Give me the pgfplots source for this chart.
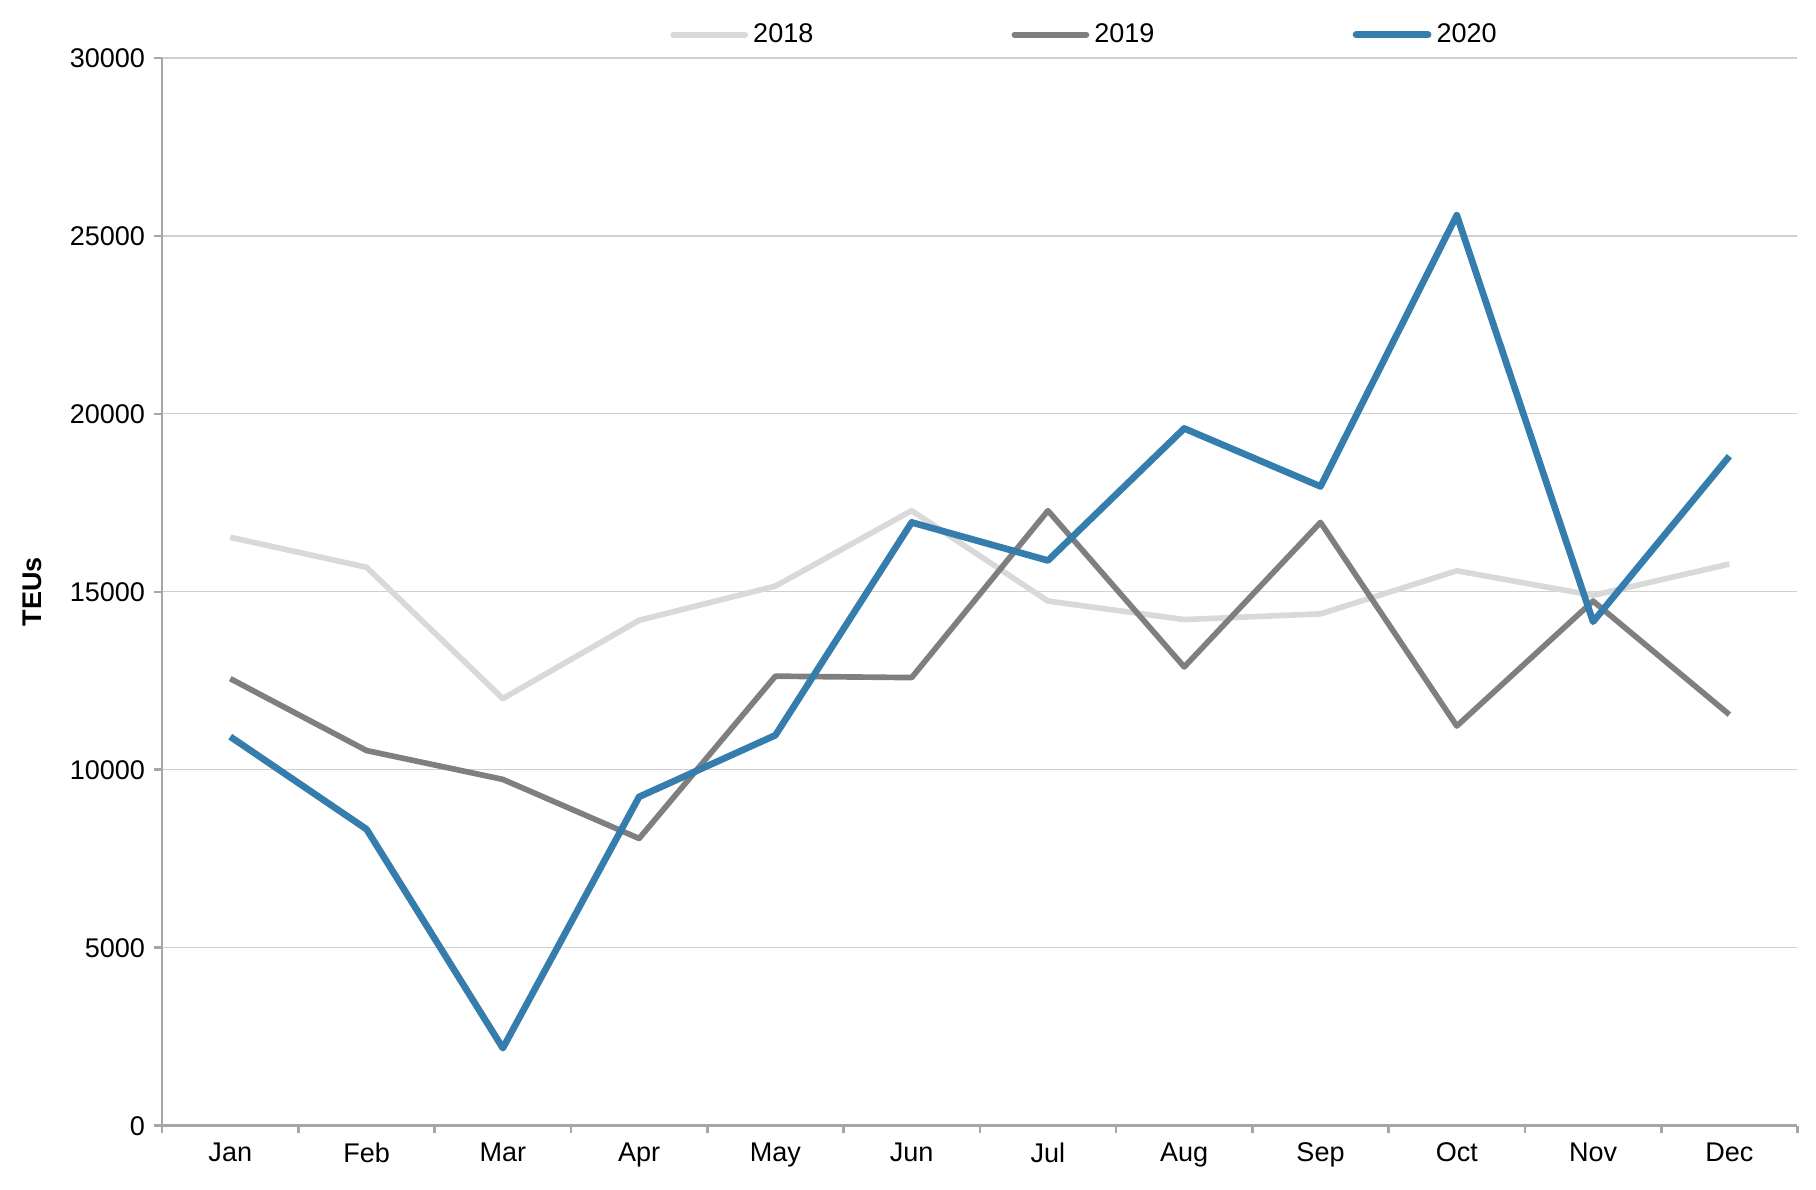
\documentclass[border=0pt]{standalone}
\usepackage{pgfplots}
\pgfplotsset{compat=1.18}
\usepackage{fontspec}
\setmainfont{Liberation Sans}
\definecolor{c18}{HTML}{D9D9D9}
\definecolor{c19}{HTML}{7F7F7F}
\definecolor{c20}{HTML}{357DAD}
\definecolor{gridc}{HTML}{CFCFCF}
\definecolor{axc}{HTML}{A6A6A6}
\begin{document}
\fontsize{10.5pt}{12pt}\selectfont
\begin{tikzpicture}
\path[use as bounding box] (-63pt,-24.75pt) rectangle (642.6pt,437.4pt);
\begin{axis}[
  at={(0,0)}, anchor=south west,
  scale only axis, width=635.4pt, height=414.9pt,
  xmin=0.5, xmax=12.5, ymin=0, ymax=30000,
  axis lines=left, axis line style={axc, line width=1pt, -},
  xtick={0.5,1.5,...,12.5},
  x tick label as interval,
  xticklabels={Jan,Feb,Mar,Apr,May,Jun,Jul,Aug,Sep,Oct,Nov,Dec},
  ytick={0,5000,...,30000},
  scaled y ticks=false,
  tick align=outside, major tick length=3pt,
  tick style={axc, line width=1pt},
  ymajorgrids, grid style={gridc, line width=0.5pt},
  /pgf/number format/assume math mode=true,
  /pgf/number format/set thousands separator={},
  tick label style={font=\fontsize{10.5pt}{12pt}\selectfont, black},
  ylabel={TEUs},
  ylabel style={at={(axis description cs:-0.0793,0.5)}, anchor=center, font=\bfseries\fontsize{10.5pt}{12pt}\selectfont},
  legend columns=3,
  legend style={at={(axis description cs:0.565,1.0217)}, anchor=center, draw=none, fill=none,
    font=\fontsize{10.5pt}{12pt}\selectfont,
    /tikz/every even column/.append style={column sep=75pt}},
  legend image code/.code={\draw[#1, line cap=round] (0pt,0pt) -- (28pt,0pt);},
  clip=false,
]
\addplot[c18, line width=2.2pt, line join=round] coordinates {
(1,16530) (2,15690) (3,12000) (4,14200) (5,15160) (6,17280) (7,14740) (8,14220) (9,14380) (10,15590) (11,14900) (12,15780)};
\addlegendentry{2018}
\addplot[c19, line width=2.2pt, line join=round] coordinates {
(1,12560) (2,10540) (3,9730) (4,8070) (5,12630) (6,12590) (7,17280) (8,12890) (9,16950) (10,11230) (11,14740) (12,11550)};
\addlegendentry{2019}
\addplot[c20, line width=2.6pt, line join=round] coordinates {
(1,10930) (2,8330) (3,2180) (4,9240) (5,10970) (6,16950) (7,15880) (8,19590) (9,17960) (10,25580) (11,14160) (12,18810)};
\addlegendentry{2020}
\end{axis}
\end{tikzpicture}
\end{document}
